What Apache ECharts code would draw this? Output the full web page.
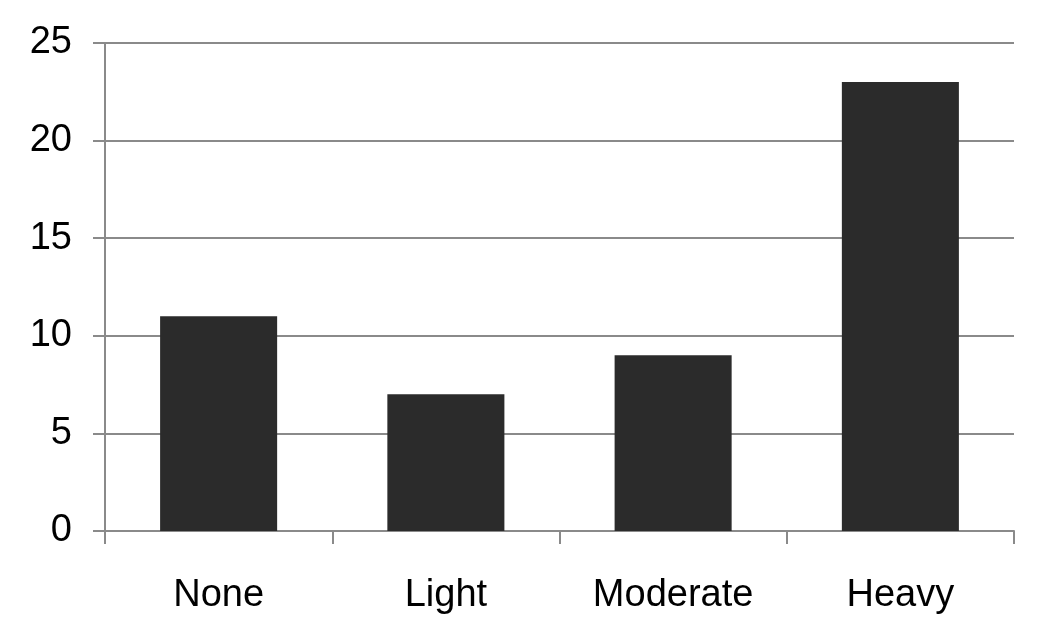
<!DOCTYPE html>
<html>
<head>
    <meta charset="utf-8" />
    <title>Chart</title>
    <script src="https://cdn.jsdelivr.net/npm/echarts@6/dist/echarts.min.js"></script>
    <style>
        html, body { margin: 0; padding: 0; background: #fff; }
        #chart { width: 1050px; height: 644px; }
    </style>
</head>
<body>
    <div id="chart"></div>
    <script>
        var categories = ['None', 'Light', 'Moderate', 'Heavy'];
        var values = [11, 7, 9, 23];

        var myChart = echarts.init(document.getElementById('chart'));

        var option = {
            animation: false,
            textStyle: { fontFamily: 'Liberation Sans, Arial, sans-serif' },
            grid: { left: 105, right: 36, top: 43, bottom: 113, containLabel: false },
            xAxis: {
                type: 'category',
                data: categories,
                axisLine: { lineStyle: { color: '#8a8a8a', width: 2 } },
                axisTick: { show: true, length: 13, lineStyle: { color: '#8a8a8a', width: 2 } },
                axisLabel: { color: '#000', fontSize: 38, margin: 46 }
            },
            yAxis: {
                type: 'value',
                min: 0,
                max: 25,
                interval: 5,
                axisLine: { show: true, lineStyle: { color: '#8a8a8a', width: 2 } },
                axisTick: { show: true, length: 12, lineStyle: { color: '#8a8a8a', width: 2 } },
                splitLine: { lineStyle: { color: '#8a8a8a', width: 2 } },
                axisLabel: { color: '#000', fontSize: 38, margin: 33 }
            },
            series: [{
                type: 'bar',
                data: values,
                barWidth: '51.5%',
                itemStyle: { color: '#2b2b2b' }
            }]
        };

        myChart.setOption(option);
    </script>
</body>
</html>
